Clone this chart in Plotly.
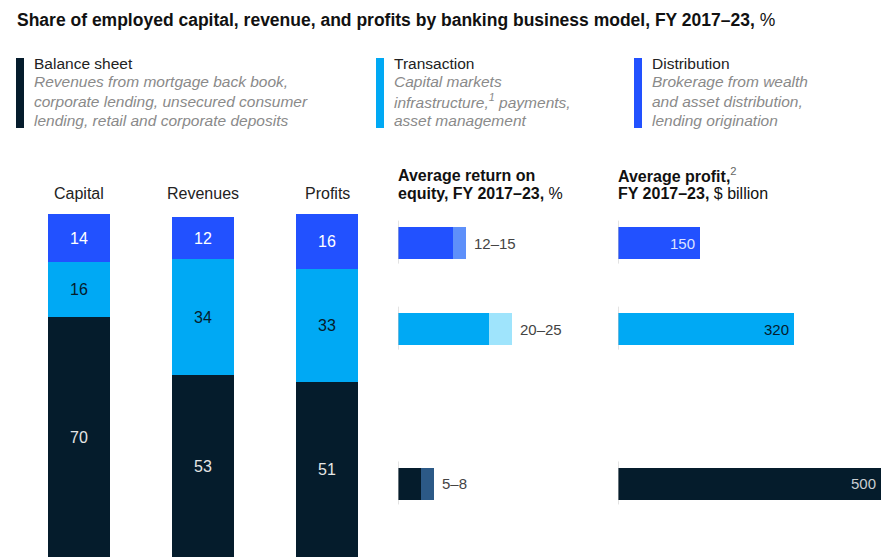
import plotly.graph_objects as go

# ---------------- data ----------------
metrics = ["Capital", "Revenues", "Profits"]
models = ["Balance sheet", "Transaction", "Distribution"]
descriptions = [
    ["Revenues from mortgage back book,", "corporate lending, unsecured consumer",
     "lending, retail and corporate deposits"],
    ["Capital markets", "infrastructure,<sup>1</sup> payments,", "asset management"],
    ["Brokerage from wealth", "and asset distribution,", "lending origination"],
]
share_balance = [70, 53, 51]
share_transaction = [16, 34, 33]
share_distribution = [14, 12, 16]

roe_low = [5, 20, 12]        # Balance sheet, Transaction, Distribution
roe_high = [8, 25, 15]
avg_profit = [500, 320, 150]  # $ billion

title_main = "Share of employed capital, revenue, and profits by banking business model, FY 2017–23,"
roe_title_lines = ["<b>Average return on</b>", "<b>equity, FY 2017–23,</b> %"]
profit_title_lines = ["<b>Average profit,</b><span style='color:#666666'><sup>2</sup></span>",
                      "<b>FY 2017–23,</b> $ billion"]

# ---------------- style ----------------
W, H = 889, 557
OFF = 8  # page body margin offset
FONT = "Liberation Sans, Arial, sans-serif"
C_NAVY = "#051C2C"
C_CYAN = "#00A9F4"
C_BLUE = "#2251FF"
LIGHT = {"Balance sheet": "#2C5986", "Transaction": "#9FE4FC", "Distribution": "#5E90FA"}
BASE = {"Balance sheet": C_NAVY, "Transaction": C_CYAN, "Distribution": C_BLUE}
PROFIT_TXT = {"Balance sheet": "#C9CDD2", "Transaction": C_NAVY, "Distribution": "#DCE3FF"}
ROW_POS = {"Distribution": 0, "Transaction": 1, "Balance sheet": 2.8}
ROW0_PX, ROW_STEP = 243 - OFF, 86
X3_MAX = 493
X3_VISIBLE = 478  # value at the visible right edge


def fx(px):
    return (px - OFF) / W


def fy(py):
    return 1 - (py - OFF) / H


fig = go.Figure()

# stacked share columns
stack = [
    ("Balance sheet", share_balance, C_NAVY, "#E6E6E6"),
    ("Transaction", share_transaction, C_CYAN, C_NAVY),
    ("Distribution", share_distribution, C_BLUE, "#FFFFFF"),
]
for name, vals, col, tcol in stack:
    fig.add_trace(go.Bar(
        x=metrics, y=vals, name=name, width=0.5,
        marker=dict(color=col, line=dict(width=0)),
        text=[str(v) for v in vals], textposition="inside", insidetextanchor="middle",
        textfont=dict(family=FONT, size=16, color=tcol),
        xaxis="x", yaxis="y", showlegend=False, hoverinfo="skip",
    ))

# ROE bars (range)
ypos = [ROW_POS[m] for m in models]
fig.add_trace(go.Bar(
    x=roe_low, y=ypos, orientation="h", width=0.372,
    marker=dict(color=[BASE[m] for m in models], line=dict(width=0)),
    xaxis="x2", yaxis="y2", showlegend=False, hoverinfo="skip",
))
fig.add_trace(go.Bar(
    x=[h - l for h, l in zip(roe_high, roe_low)], y=ypos, orientation="h", width=0.372,
    marker=dict(color=[LIGHT[m] for m in models], line=dict(width=0)),
    xaxis="x2", yaxis="y2", showlegend=False, hoverinfo="skip",
))

# Average profit bars
fig.add_trace(go.Bar(
    x=avg_profit, y=ypos, orientation="h", width=0.372,
    marker=dict(color=[BASE[m] for m in models], line=dict(width=0)),
    xaxis="x3", yaxis="y3", showlegend=False, hoverinfo="skip",
))

annotations = []
shapes = []

# title
annotations.append(dict(
    xref="paper", yref="paper", x=fx(15), y=fy(20), xanchor="left", yanchor="middle",
    text=f"<b>{title_main}</b> %", showarrow=False,
    font=dict(family=FONT, size=17.5, color="#111111"),
))

# custom legend
leg_x = [16, 376, 634]
for i, m in enumerate(models):
    shapes.append(dict(type="rect", xref="paper", yref="paper",
                       x0=fx(leg_x[i]), x1=fx(leg_x[i] + 8), y0=fy(128), y1=fy(58),
                       fillcolor=BASE[m], line=dict(width=0)))
    annotations.append(dict(
        xref="paper", yref="paper", x=fx(leg_x[i] + 16), y=fy(63), xanchor="left", yanchor="middle",
        align="left", showarrow=False, text=m,
        font=dict(family=FONT, size=15.5, color="#222222"),
    ))
    for j, line in enumerate(descriptions[i]):
        annotations.append(dict(
            xref="paper", yref="paper", x=fx(leg_x[i] + 16), y=fy(82 + 19 * j),
            xanchor="left", yanchor="middle", align="left", showarrow=False,
            text=f"<i>{line}</i>",
            font=dict(family=FONT, size=15.5, color="#8A8A8A"),
        ))

# column labels
for m in metrics:
    annotations.append(dict(
        xref="x", yref="paper", x=m, y=fy(193), xanchor="center", yanchor="middle",
        text=m, showarrow=False, font=dict(family=FONT, size=16, color="#222222"),
    ))

# panel headers (one annotation per line)
for lines, x0 in ((roe_title_lines, 396), (profit_title_lines, 616)):
    for j, line in enumerate(lines):
        annotations.append(dict(xref="paper", yref="paper", x=fx(x0), y=fy(175 + 18 * j),
                                xanchor="left", yanchor="middle", align="left",
                                text=line, showarrow=False,
                                font=dict(family=FONT, size=16, color="#111111")))

# ROE labels, profit labels and baseline ticks
for m, lo, hi, pr in zip(models, roe_low, roe_high, avg_profit):
    p = ROW_POS[m]
    annotations.append(dict(xref="x2", yref="y2", x=hi, y=p, xanchor="left", yanchor="middle",
                            xshift=6, text=f"{lo}–{hi}", showarrow=False,
                            font=dict(family=FONT, size=15, color="#444444")))
    annotations.append(dict(xref="x3", yref="y3", x=min(pr, X3_VISIBLE), y=p,
                            xanchor="right", yanchor="middle", xshift=-3,
                            text=str(pr), showarrow=False,
                            font=dict(family=FONT, size=15, color=PROFIT_TXT[m])))
    for ax in ("2", "3"):
        shapes.append(dict(type="line", xref="x" + ax, yref="y" + ax, x0=0, x1=0,
                           y0=p - 0.26, y1=p + 0.24, line=dict(color="#C8C8C8", width=1)))

top_row = -ROW0_PX / ROW_STEP
bot_row = (H - ROW0_PX) / ROW_STEP
fig.update_layout(
    width=W, height=H, margin=dict(l=0, r=0, t=0, b=0),
    paper_bgcolor="white", plot_bgcolor="white", barmode="stack", bargap=0,
    font=dict(family=FONT),
    xaxis=dict(domain=[fx(17), fx(389)], range=[-0.5, 2.5], visible=False, anchor="y"),
    yaxis=dict(domain=[fy(557), fy(214)], range=[0, 100], visible=False, anchor="x"),
    xaxis2=dict(domain=[fx(398), fx(600)], range=[0, 202 / 4.55], visible=False, anchor="y2"),
    yaxis2=dict(domain=[0, 1], range=[bot_row, top_row], visible=False, anchor="x2"),
    xaxis3=dict(domain=[fx(618), fx(889)], range=[0, X3_MAX], visible=False, anchor="y3"),
    yaxis3=dict(domain=[0, 1], range=[bot_row, top_row], visible=False, anchor="x3"),
    annotations=annotations, shapes=shapes,
)

fig.write_html("out.html")
